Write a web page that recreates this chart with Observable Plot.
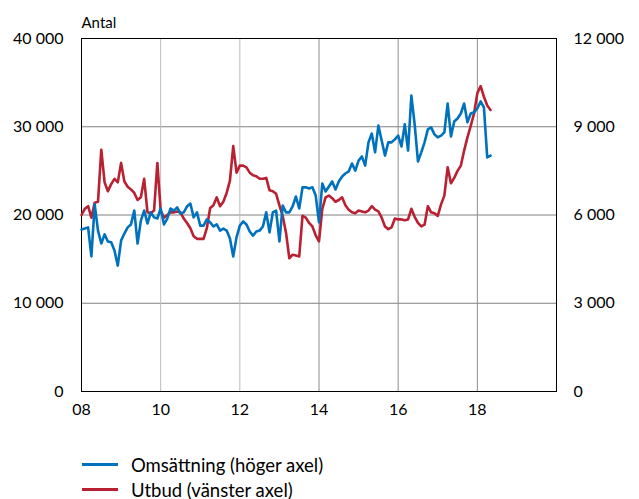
<!DOCTYPE html>
<html>
<head>
<meta charset="utf-8">
<script src="https://cdn.jsdelivr.net/npm/d3@7"></script>
<script src="https://cdn.jsdelivr.net/npm/@observablehq/plot@0.6"></script>
<style>
  html, body { margin: 0; padding: 0; background: #fff; }
  body { width: 639px; height: 499px; overflow: hidden; font-family: Lato, "Open Sans", sans-serif; color: #000; }
  #chart svg { display: block; }
  .legend { margin-top: 27px; }
  .legend .row { height: 25px; display: flex; align-items: center; font-size: 18.5px; line-height: 20px; }
  .legend .sw { width: 36px; height: 3px; margin-left: 82px; margin-right: 13px; }
</style>
</head>
<body>
<div id="chart"></div>
<div class="legend">
  <div class="row"><span class="sw" style="background:#0071BC"></span><span>Omsättning (höger axel)</span></div>
  <div class="row"><span class="sw" style="background:#B92031"></span><span>Utbud (vänster axel)</span></div>
</div>
<script>
// Monthly values from Jan 2008
const startYear = 2008;
const utbud = [ // left axis
  20000,20700,21000,19700,21400,21500,27400,23700,22700,23500,24100,23700,
  25900,23800,23200,22900,22500,21700,22000,24100,20300,20200,20500,25900,
  20500,19700,20000,20300,20300,20400,20300,19600,19100,18500,17600,17300,
  17300,17300,18500,20800,21100,22000,21000,21500,22500,23900,27800,24800,
  25600,25600,25400,24800,24500,24400,24100,24100,24200,22800,22700,22400,
  21100,19900,18000,15100,15500,15400,15300,19900,19700,19100,18700,17700,
  17000,20700,22000,22200,21900,21500,21700,22000,21100,20600,20300,20200,
  20500,20400,20300,20500,21000,20600,20400,19700,18700,18400,18600,19600,
  19500,19500,19400,19500,20700,19800,19100,18700,18900,21000,20300,20200,
  19900,21200,22200,25400,23600,24200,25000,25600,27300,28800,30100,31500,
  33800,34600,33400,32400,31900
];
const omsattning = [ // right axis
  5510,5540,5580,4590,6360,5470,5030,5340,5100,5070,4790,4280,
  5130,5370,5580,5680,6150,5030,5810,6150,5710,6090,5920,5880,
  6220,5680,5880,6220,6150,6260,6050,6090,6290,6390,5920,6090,
  5640,5640,5850,5750,5610,5680,5470,5540,5470,5200,4590,5240,
  5640,5780,5680,5440,5300,5440,5470,5610,6090,5410,6090,6150,
  5100,6320,6090,6090,6290,6630,6220,6940,6940,6900,6940,6660,
  5750,7070,6800,6970,7140,6870,7140,7310,7410,7480,7750,7510,
  7850,7990,7680,8470,8770,8130,9040,8530,8020,8470,8470,8570,
  8700,8330,9080,8190,10060,9080,7820,8130,8470,8910,8980,8740,
  8640,8700,8810,9790,8670,9180,9280,9450,9790,9150,9450,9490,
  9620,9860,9660,7960,8020
];
const leftTicks = [0, 10000, 20000, 30000, 40000];
const rightMax = 12000, leftMax = 40000;
const xTicks = [2008, 2010, 2012, 2014, 2016, 2018];
const gridY = [10000, 20000, 30000];
const gridXLight = [2010, 2012];
const gridXDark = [2014, 2016, 2018];
const unitLabel = ["Antal"];

const ratio = leftMax / rightMax;
const fmt = d3.formatLocale({decimal: ",", thousands: " ", grouping: [3], currency: ["", ""]}).format(",.0f");

const redData = utbud.map((v, i) => ({x: startYear + i / 12, y: v}));
const blueData = omsattning.map((v, i) => ({x: startYear + i / 12, y: v * ratio}));

const chart = Plot.plot({
  width: 639,
  height: 425,
  marginLeft: 81,
  marginRight: 83,
  marginTop: 38,
  marginBottom: 34,
  style: {fontFamily: "Lato, 'Open Sans', sans-serif", fontSize: "16px", color: "#000", background: "#fff"},
  x: {domain: [2008, 2020]},
  y: {domain: [0, 40000]},
  marks: [
    Plot.ruleY(gridY, {stroke: "#808080", strokeWidth: 1}),
    Plot.ruleX(gridXLight, {stroke: "#bdbdbd", strokeWidth: 1}),
    Plot.ruleX(gridXDark, {stroke: "#8c8c8c", strokeWidth: 1}),
    Plot.frame({stroke: "#000", strokeWidth: 1}),
    Plot.axisX({ticks: xTicks, tickSize: 0, tickPadding: 12, tickFormat: d => String(d % 100).padStart(2, "0"), label: null, fontSize: 16}),
    Plot.axisY({anchor: "left", ticks: leftTicks, tickSize: 0, tickPadding: 18, tickFormat: fmt, label: null, fontSize: 16}),
    Plot.axisY({anchor: "right", ticks: leftTicks, tickSize: 0, tickPadding: 17, tickFormat: d => fmt(d / ratio), label: null, fontSize: 16}),
    Plot.line(redData, {x: "x", y: "y", stroke: "#B92031", strokeWidth: 2.6}),
    Plot.line(blueData, {x: "x", y: "y", stroke: "#0071BC", strokeWidth: 2.6}),
    Plot.text(unitLabel, {frameAnchor: "top-left", dy: -21, textAnchor: "start", fontSize: 15})
  ]
});
document.getElementById("chart").appendChild(chart);
</script>
</body>
</html>
